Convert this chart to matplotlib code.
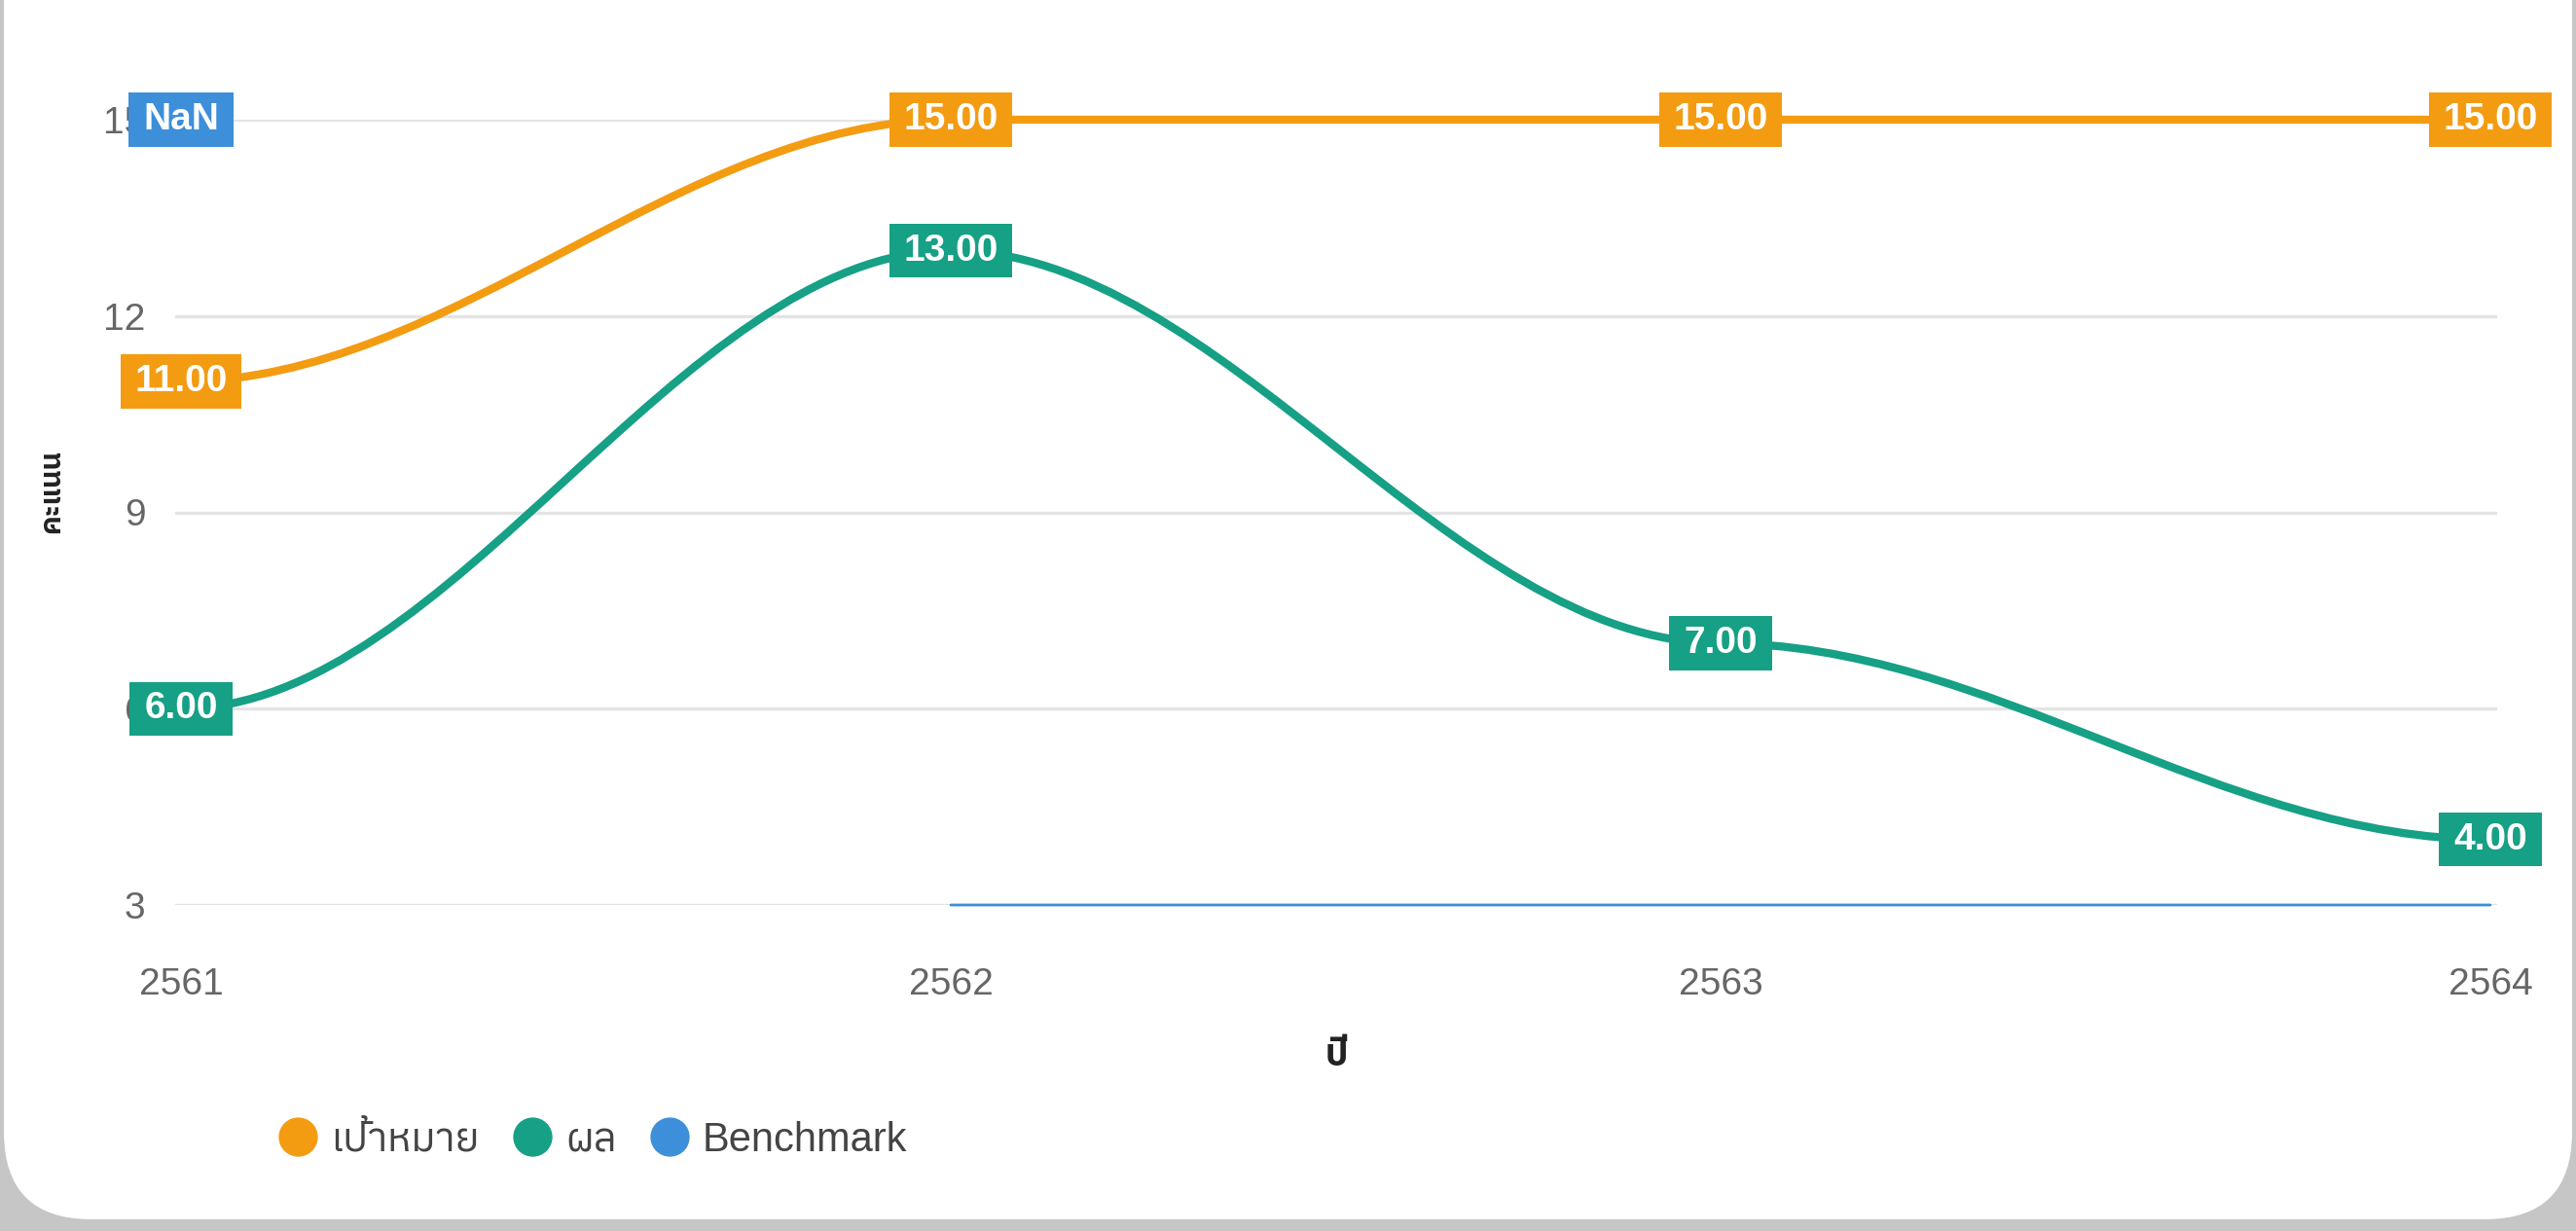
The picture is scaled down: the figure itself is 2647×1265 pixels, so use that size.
import numpy as np
import matplotlib
matplotlib.use('Agg')
import matplotlib.pyplot as plt
from matplotlib import font_manager as fm
from matplotlib.ft2font import FT2Font
from matplotlib.path import Path
from matplotlib.patches import PathPatch, FancyBboxPatch
from matplotlib.lines import Line2D
from matplotlib.transforms import IdentityTransform

# dados do gráfico
anos = [2561, 2562, 2563, 2564]
meta = [11, 15, 15, 15]          # เป้าหมาย
resultado = [6, 13, 7, 4]        # ผล
benchmark = [np.nan, 3, 3, 3]    # Benchmark (primeiro ponto vazio -> "NaN")
nomes = ['เป้าหมาย', 'ผล', 'Benchmark']
cores = ['#f39c12', '#16a085', '#3d8fd9']
y_ticks = [3, 6, 9, 12, 15]
x_titulo = 'ปี'
y_titulo = 'คะแนน'


def acha_fonte_thai():
    # procura alguma fonte instalada que tenha o caractere 'ป'
    achadas = []
    for f in fm.fontManager.ttflist:
        try:
            if 0x0E1B in FT2Font(f.fname).get_charmap():
                achadas.append(f.name)
        except Exception:
            pass
    achadas = sorted(set(achadas), key=lambda n: ('Sans' not in n, 'Looped' in n, n))
    return achadas[0] if achadas else 'DejaVu Sans'


fonte_thai = acha_fonte_thai()
plt.rcParams['font.family'] = ['Liberation Sans', fonte_thai, 'DejaVu Sans']

# fonte estreita pros rotulos (se tiver), senão a normal
try:
    fm.findfont('Liberation Sans Narrow', fallback_to_default=False)
    fonte_rotulo, tam_rotulo = 'Liberation Sans Narrow', 34
except ValueError:
    fonte_rotulo, tam_rotulo = 'Liberation Sans', 28

W, H = 2647, 1265
fig = plt.figure(figsize=(W / 100, H / 100), dpi=100)
fig.patch.set_facecolor('#c6c6c6')

# cartão branco com cantos arredondados
cartao = FancyBboxPatch((4, 12), W - 8, H + 200, boxstyle='round,pad=0,rounding_size=90',
                        transform=IdentityTransform(), fc='white', ec='none', zorder=-10)
fig.patches.append(cartao)

esq, dir_, topo, base = 180, 2566, 123, 930
ax = fig.add_axes([esq / W, 1 - base / H, (dir_ - esq) / W, (base - topo) / H])
ax.set_facecolor('none')
ax.set_xlim(2561 - 6 / 791, 2564 + 7 / 791)
ax.set_ylim(3, 15)
for s in ax.spines.values():
    s.set_visible(False)

ax.set_yticks(y_ticks)
ax.set_xticks(anos)
ax.set_xticklabels([str(a) for a in anos])
ax.tick_params(axis='both', length=0, labelsize=28, labelcolor='#666666')
ax.tick_params(axis='x', pad=46)
ax.tick_params(axis='y', pad=22)
ax.grid(axis='y', color='#e4e4e4', linewidth=2.4)
ax.set_axisbelow(True)

ax.set_xlabel(x_titulo, fontsize=27, fontweight='bold', color='#222222', labelpad=27)
ax.set_ylabel(y_titulo, fontsize=21, fontweight='bold', color='#222222')
ax.yaxis.set_label_coords(-0.0474, 0.527)


def curva_suave(xs, ys):
    """ Curva 'smooth': cada trecho é uma bezier com pontos de controle horizontais (35%) """
    verts, codes = [], []
    ultimo = None
    for i in range(len(xs) - 1):
        x0, y0, x1, y1 = xs[i], ys[i], xs[i + 1], ys[i + 1]
        if np.isnan(y0) or np.isnan(y1):
            continue
        if ultimo != i:
            verts.append((x0, y0))
            codes.append(Path.MOVETO)
        d = (x1 - x0) * 0.35
        verts += [(x0 + d, y0), (x1 - d, y1), (x1, y1)]
        codes += [Path.CURVE4] * 3
        ultimo = i + 1
    return Path(verts, codes)


larguras = [6.0, 6.0, 2.0]
for serie, cor, lw in zip([meta, resultado, benchmark], cores, larguras):
    ax.add_patch(PathPatch(curva_suave(anos, serie), fill=False, edgecolor=cor, lw=lw,
                           capstyle='round', joinstyle='round', zorder=3, clip_on=False))


def caixa(x0, y0, largura, altura, mutation_size):
    # caixinha com folga maior dos lados do que em cima/embaixo
    px, py = 0.38 * mutation_size, 0.25 * mutation_size
    xa, ya = x0 - px, y0 - py
    xb, yb = x0 + largura + px, y0 + altura + py
    return Path([(xa, ya), (xb, ya), (xb, yb), (xa, yb), (xa, ya)], closed=True)


# rotulos com caixinha colorida
for serie, cor in zip([meta, resultado, benchmark], cores):
    for x, v in zip(anos, serie):
        if serie is benchmark and not np.isnan(v):
            continue
        if np.isnan(v):
            txt, y = 'NaN', y_ticks[-1]
        else:
            txt, y = f'{v:.2f}', v
        ax.text(x, y, txt, ha='center', va='center', color='white', fontsize=tam_rotulo,
                fontweight='bold', family=[fonte_rotulo, 'Liberation Sans'], zorder=6,
                bbox=dict(boxstyle=caixa, fc=cor, ec='none'))

# legenda embaixo à esquerda
alcas = [Line2D([], [], marker='o', ls='none', markersize=28, mfc=c, mec=c, label=n)
         for n, c in zip(nomes, cores)]
fig.legend(handles=alcas, loc='center left', bbox_to_anchor=(285 / W, 93 / H), ncol=3,
           frameon=False, fontsize=30, handlelength=1.0, handletextpad=0.31,
           columnspacing=0.8, borderpad=0, borderaxespad=0, labelcolor='#444444')

fig.savefig('out.png', dpi=100, facecolor=fig.get_facecolor())
